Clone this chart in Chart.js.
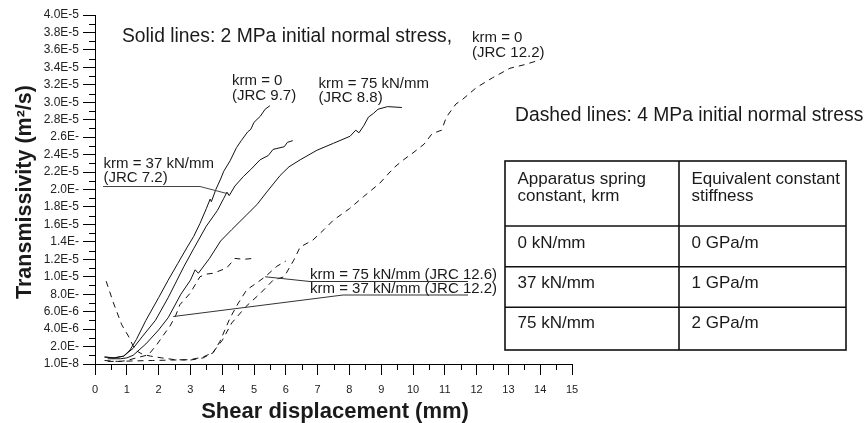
<!DOCTYPE html>
<html><head><meta charset="utf-8">
<script src="https://cdn.jsdelivr.net/npm/chart.js@4.4.1/dist/chart.umd.min.js"></script>
<style>html,body{margin:0;padding:0;background:#fff;}canvas{display:block;}</style>
</head><body>
<canvas id="c" width="867" height="423"></canvas>
<script>
// ---- Data (shear displacement in mm, transmissivity in units of 1E-6 m²/s) ----
const xTickLabels = ['0','1','2','3','4','5','6','7','8','9','10','11','12','13','14','15'];
const yTickLabels = ['1.0E-8','2.0E-','4.0E-6','6.0E-6','8.0E-','1.0E-5','1.2E-5','1.4E-','1.6E-5','1.8E-5','2.0E-','2.2E-5','2.4E-5','2.6E-','2.8E-5','3.0E-5','3.2E-5','3.4E-5','3.6E-5','3.8E-5','4.0E-5'];

// Solid lines: 2 MPa initial normal stress
const solidK0X  = [0.3, 0.6, 0.9, 1.1, 1.3, 1.6, 2.0, 2.3, 2.6, 2.9, 3.1, 3.3, 3.5, 3.62, 3.66, 3.8, 3.95, 4.05, 4.25, 4.45, 4.6, 4.8, 4.9, 5.0, 5.2, 5.35, 5.5];
const solidK0Y  = [0.8, 0.7, 0.9, 1.6, 2.8, 5.0, 7.6, 9.6, 11.5, 13.4, 14.6, 16.1, 17.8, 18.9, 18.6, 20.0, 21.2, 22.1, 23.3, 24.8, 25.6, 26.6, 26.9, 27.7, 28.4, 29.2, 29.6];
const solidK37X = [0.3, 0.6, 0.9, 1.2, 1.5, 1.9, 2.3, 2.8, 3.1, 3.5, 3.85, 4.05, 4.15, 4.22, 4.4, 4.67, 4.9, 5.19, 5.45, 5.6, 5.72, 5.95, 6.05, 6.22];
const solidK37Y = [0.8, 0.7, 0.9, 1.8, 3.2, 5.0, 7.6, 11.2, 13.2, 15.8, 17.6, 19.0, 19.7, 19.3, 20.4, 21.5, 22.3, 23.4, 23.9, 24.6, 24.7, 24.9, 25.4, 25.6];
const solidK75X = [0.4, 0.8, 1.0, 1.2, 1.6, 2.0, 2.3, 2.7, 3.0, 3.15, 3.25, 3.6, 3.95, 4.3, 4.77, 5.1, 5.4, 5.82, 6.1, 6.45, 6.98, 7.5, 8.02, 8.2, 8.3, 8.45, 8.6, 8.75, 8.9, 9.2, 9.65];
const solidK75Y = [0.6, 0.6, 0.7, 1.0, 2.3, 3.9, 5.3, 8.0, 9.6, 10.8, 10.4, 12.1, 14.1, 15.4, 17.1, 18.3, 19.7, 21.6, 22.6, 23.4, 24.5, 25.3, 26.1, 26.8, 26.5, 27.3, 28.3, 28.7, 29.2, 29.5, 29.4];

// Dashed lines: 4 MPa initial normal stress
const dashK0X  = [0.3, 0.7, 1.2, 1.8, 2.4, 3.0, 3.4, 3.7, 4.0, 4.3, 4.75, 5.2, 5.6, 5.95, 6.25, 6.45, 6.85, 7.2, 7.5, 8.0, 8.45, 8.95, 9.4, 9.7, 10.0, 10.35, 10.6, 10.9, 11.05, 11.35, 11.55, 12.0, 12.5, 13.05, 13.5, 13.95];
const dashK0Y  = [0.4, 0.3, 0.35, 0.4, 0.45, 0.5, 0.8, 1.3, 2.7, 4.7, 6.6, 8.1, 9.6, 10.0, 11.9, 13.4, 14.2, 15.4, 16.5, 17.8, 19.2, 20.7, 22.5, 23.4, 24.2, 25.2, 26.4, 26.8, 28.3, 29.8, 30.3, 31.7, 32.8, 33.9, 34.3, 34.8];
const dashK75X = [0.35, 0.58, 0.84, 1.05, 1.26, 1.5, 1.75, 2.1, 2.5, 3.0, 3.4, 3.72, 3.93, 4.25, 4.51, 4.77, 5.09, 5.35, 5.72, 6.0];
const dashK75Y = [9.5, 7.0, 4.5, 3.2, 1.6, 1.1, 0.9, 0.7, 0.5, 0.45, 0.7, 1.3, 2.6, 5.3, 7.0, 8.5, 9.3, 10.0, 11.2, 11.8];
const dashK37X = [0.4, 0.8, 1.0, 1.3, 1.68, 1.94, 2.15, 2.35, 2.52, 2.67, 2.99, 3.3, 3.5, 3.72, 4.14, 4.4, 4.67, 4.98];
const dashK37Y = [0.3, 0.3, 0.4, 0.7, 1.05, 2.2, 3.3, 4.3, 5.4, 6.8, 8.1, 10.0, 10.3, 10.4, 11.0, 12.1, 12.0, 12.1];

const FONT = "'Liberation Sans', Arial, Helvetica, sans-serif";
Chart.defaults.font.family = FONT;

const pts = (xs, ys) => xs.map((x, i) => ({x: x, y: ys[i]}));
const base = {showLine: true, borderColor: '#111', borderWidth: 1, pointRadius: 0, fill: false, tension: 0};
const datasets = [
  {label: 'krm = 0 (JRC 9.7), 2 MPa', data: pts(solidK0X, solidK0Y)},
  {label: 'krm = 37 kN/mm (JRC 7.2), 2 MPa', data: pts(solidK37X, solidK37Y)},
  {label: 'krm = 75 kN/mm (JRC 8.8), 2 MPa', data: pts(solidK75X, solidK75Y)},
  {label: 'krm = 0 (JRC 12.2), 4 MPa', data: pts(dashK0X, dashK0Y), borderDash: [6, 5]},
  {label: 'krm = 75 kN/mm (JRC 12.6), 4 MPa', data: pts(dashK75X, dashK75Y), borderDash: [6, 5]},
  {label: 'krm = 37 kN/mm (JRC 12.2), 4 MPa', data: pts(dashK37X, dashK37Y), borderDash: [6, 5]}
].map(d => Object.assign({}, base, d));

function txt(ctx, s, x, y, size, bold, align) {
  ctx.font = (bold ? 'bold ' : '') + size + 'px ' + FONT;
  ctx.fillStyle = '#1a1a1a';
  ctx.textAlign = align || 'left';
  ctx.textBaseline = 'alphabetic';
  ctx.fillText(s, x, y);
}
function line(ctx, p, color, w) {
  ctx.beginPath();
  ctx.moveTo(p[0][0], p[0][1]);
  for (let i = 1; i < p.length; i++) ctx.lineTo(p[i][0], p[i][1]);
  ctx.strokeStyle = color || '#222';
  ctx.lineWidth = w || 1;
  ctx.setLineDash([]);
  ctx.stroke();
}

const decor = {
  id: 'decor',
  afterDraw(chart) {
    const ctx = chart.ctx;
    const xs = chart.scales.x, ys = chart.scales.y;
    const px = v => xs.getPixelForValue(v), py = v => ys.getPixelForValue(v);
    ctx.save();
    // minor ticks
    ctx.strokeStyle = '#000'; ctx.lineWidth = 1;
    for (let v = 1; v < 40; v += 2) {
      const y = Math.round(py(v)) + 0.5;
      ctx.beginPath(); ctx.moveTo(xs.left - 6, y); ctx.lineTo(xs.left, y); ctx.stroke();
    }
    for (let v = 0.5; v < 15; v += 1) {
      const x = Math.round(px(v)) + 0.5;
      ctx.beginPath(); ctx.moveTo(x, ys.bottom); ctx.lineTo(x, ys.bottom + 6); ctx.stroke();
    }
    // axis titles
    txt(ctx, 'Shear displacement (mm)', 335, 418, 22, true, 'center');
    ctx.save();
    ctx.translate(31, 192);
    ctx.rotate(-Math.PI / 2);
    txt(ctx, 'Transmissivity (m²/s)', 0, 0, 21.5, true, 'center');
    ctx.restore();
    // headers
    txt(ctx, 'Solid lines: 2 MPa initial normal stress,', 122, 41.5, 19.3);
    txt(ctx, 'Dashed lines: 4 MPa initial normal stress', 515, 120.5, 19.3);
    // curve labels
    txt(ctx, 'krm = 0', 472, 41.5, 15); txt(ctx, '(JRC 12.2)', 472, 56.5, 15);
    txt(ctx, 'krm = 0', 232, 85, 15); txt(ctx, '(JRC 9.7)', 232, 99.5, 15);
    txt(ctx, 'krm = 75 kN/mm', 318.5, 88.3, 15); txt(ctx, '(JRC 8.8)', 318.5, 101.8, 15);
    txt(ctx, 'krm = 37 kN/mm', 103.5, 168.3, 15); txt(ctx, '(JRC 7.2)', 103.5, 182, 15);
    line(ctx, [[103, 186.5], [200, 186.5], [px(4.19), py(19.5)]], '#444');
    txt(ctx, 'krm = 75 kN/mm (JRC 12.6)', 310, 279.3, 15);
    line(ctx, [[px(5.35), py(10.0)], [310, 281.5], [468, 281.5]], '#333');
    txt(ctx, 'krm = 37 kN/mm (JRC 12.2)', 310, 293.3, 15);
    line(ctx, [[px(2.46), py(5.44)], [343, 295], [468, 295]], '#333');
    // table
    ctx.strokeStyle = '#111'; ctx.lineWidth = 1.6; ctx.setLineDash([]);
    ctx.strokeRect(505, 161, 341, 189);
    line(ctx, [[679, 161], [679, 350]], '#111', 1.6);
    line(ctx, [[505, 226], [846, 226]], '#111', 1.6);
    line(ctx, [[505, 266.7], [846, 266.7]], '#111', 1.6);
    line(ctx, [[505, 307.3], [846, 307.3]], '#111', 1.6);
    txt(ctx, 'Apparatus spring', 517.5, 184, 17); txt(ctx, 'constant, krm', 517.5, 201, 17);
    txt(ctx, 'Equivalent constant', 691.5, 184, 17); txt(ctx, 'stiffness', 691.5, 201, 17);
    txt(ctx, '0 kN/mm', 517.5, 248.3, 17); txt(ctx, '0 GPa/m', 691.5, 248.3, 17);
    txt(ctx, '37 kN/mm', 517.5, 288.3, 17); txt(ctx, '1 GPa/m', 691.5, 288.3, 17);
    txt(ctx, '75 kN/mm', 517.5, 328.3, 17); txt(ctx, '2 GPa/m', 691.5, 328.3, 17);
    ctx.restore();
  }
};

new Chart(document.getElementById('c'), {
  type: 'scatter',
  data: {datasets: datasets},
  options: {
    responsive: false, animation: false, devicePixelRatio: 1,
    layout: {padding: {top: 15, right: 295, bottom: 0, left: 0}},
    plugins: {legend: {display: false}, tooltip: {enabled: false}, title: {display: false}},
    scales: {
      x: {
        type: 'linear', min: 0, max: 15,
        ticks: {stepSize: 1, autoSkip: false, maxRotation: 0, padding: 8, font: {size: 11}, color: '#222',
                callback: (v, i) => xTickLabels[i]},
        grid: {display: true, drawOnChartArea: false, drawTicks: true, tickLength: 11, color: '#000', lineWidth: 1},
        border: {display: true, color: '#000', width: 1},
        afterFit: s => { s.height = 59; }
      },
      y: {
        type: 'linear', min: 0, max: 40,
        ticks: {stepSize: 2, autoSkip: false, padding: 4, font: {size: 12}, color: '#222',
                callback: (v, i) => yTickLabels[i]},
        grid: {display: true, drawOnChartArea: false, drawTicks: true, tickLength: 12, color: '#000', lineWidth: 1},
        border: {display: true, color: '#000', width: 1},
        afterFit: s => { s.width = 95; }
      }
    }
  },
  plugins: [decor]
});
</script>
</body></html>
